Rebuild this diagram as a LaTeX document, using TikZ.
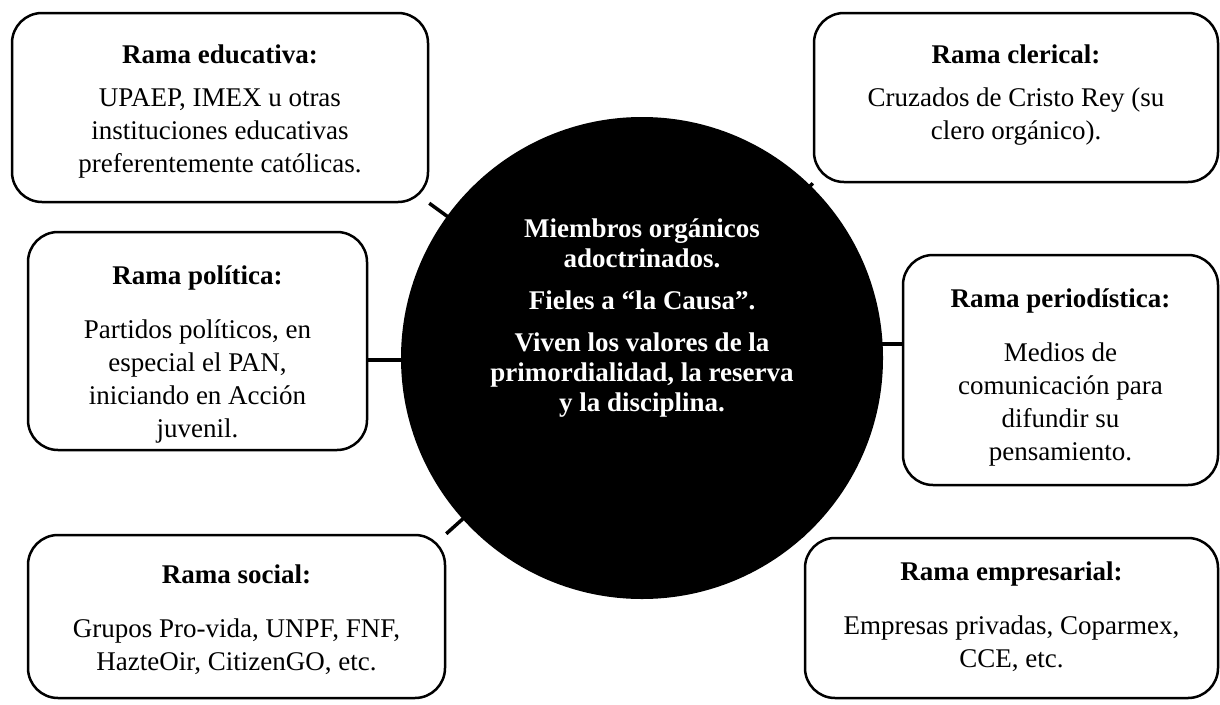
\documentclass[tikz,border=0pt]{standalone}
\usepackage{fontspec}
\setmainfont{Liberation Serif}
\usetikzlibrary{backgrounds}
\begin{document}
\begin{tikzpicture}[x=1pt,y=-1pt,
    caja/.style={draw,line width=2.5pt,rounded corners=30pt,fill=white,inner sep=0pt},
    texto/.style={anchor=north,align=center,inner sep=0pt,font=\fontsize{27}{33}\selectfont},
    enlace/.style={line width=3.5pt}]
    \useasboundingbox (0,0) rectangle (1220,704);
    % circulo central
    \node [circle,fill=black,minimum size=482pt,inner sep=0pt] (nucleo) at (642,358) {};
    \node [text=white,align=center,font=\bfseries\fontsize{27}{30}\selectfont] (lema) at (642,318)
      {Miembros orgánicos\\ adoctrinados.\\[12pt] Fieles a “la Causa”.\\[12pt]
       Viven los valores de la\\ primordialidad, la reserva\\ y la disciplina.};
    % ramas
    \node [caja,minimum width=416pt,minimum height=189pt] (educ) at (220,107.5) {};
    \node [texto] (educ-t) at ([yshift=-33pt]educ.north)
      {\textbf{Rama educativa:}\\[10pt] UPAEP, IMEX u otras\\ instituciones educativas\\ preferentemente católicas.};
    \node [caja,minimum width=404pt,minimum height=169pt] (cler) at (1016,97.5) {};
    \node [texto] (cler-t) at ([yshift=-33pt]cler.north)
      {\textbf{Rama clerical:}\\[10pt] Cruzados de Cristo Rey (su\\ clero orgánico).};
    \node [caja,minimum width=339pt,minimum height=218pt] (polit) at (197.5,341) {};
    \node [texto] (polit-t) at ([yshift=-35pt]polit.north)
      {\textbf{Rama política:}\\[21pt] Partidos políticos, en\\ especial el PAN,\\ iniciando en Acción\\ juvenil.};
    \node [caja,minimum width=315pt,minimum height=230pt] (perio) at (1060.5,370) {};
    \node [texto] (perio-t) at ([yshift=-35pt]perio.north)
      {\textbf{Rama periodística:}\\[21pt] Medios de\\ comunicación para\\ difundir su\\ pensamiento.};
    \node [caja,minimum width=417pt,minimum height=163pt] (soc) at (236.5,616.5) {};
    \node [texto] (soc-t) at ([yshift=-31pt]soc.north)
      {\textbf{Rama social:}\\[21pt] Grupos Pro-vida, UNPF, FNF,\\ HazteOir, CitizenGO, etc.};
    \node [caja,minimum width=413pt,minimum height=160pt] (empr) at (1011.5,618) {};
    \node [texto] (empr-t) at ([yshift=-25pt]empr.north)
      {\textbf{Rama empresarial:}\\[21pt] Empresas privadas, Coparmex,\\ CCE, etc.};
    % enlaces
    \begin{scope}[on background layer]
      \draw [enlace] (nucleo.center) -- (educ.south east);
      \draw [enlace] (nucleo.center) -- (cler.south west);
      \draw [enlace] ([yshift=-2pt]nucleo.center) -- ([yshift=-2pt]nucleo.center -| polit.east);
      \draw [enlace] ([yshift=14pt]nucleo.center) -- ([yshift=14pt]nucleo.center -| perio.west);
      \draw [enlace] (nucleo.center) -- (soc.north east);
      \draw [enlace] (nucleo.center) -- (empr.north west);
    \end{scope}
\end{tikzpicture}
\end{document}
